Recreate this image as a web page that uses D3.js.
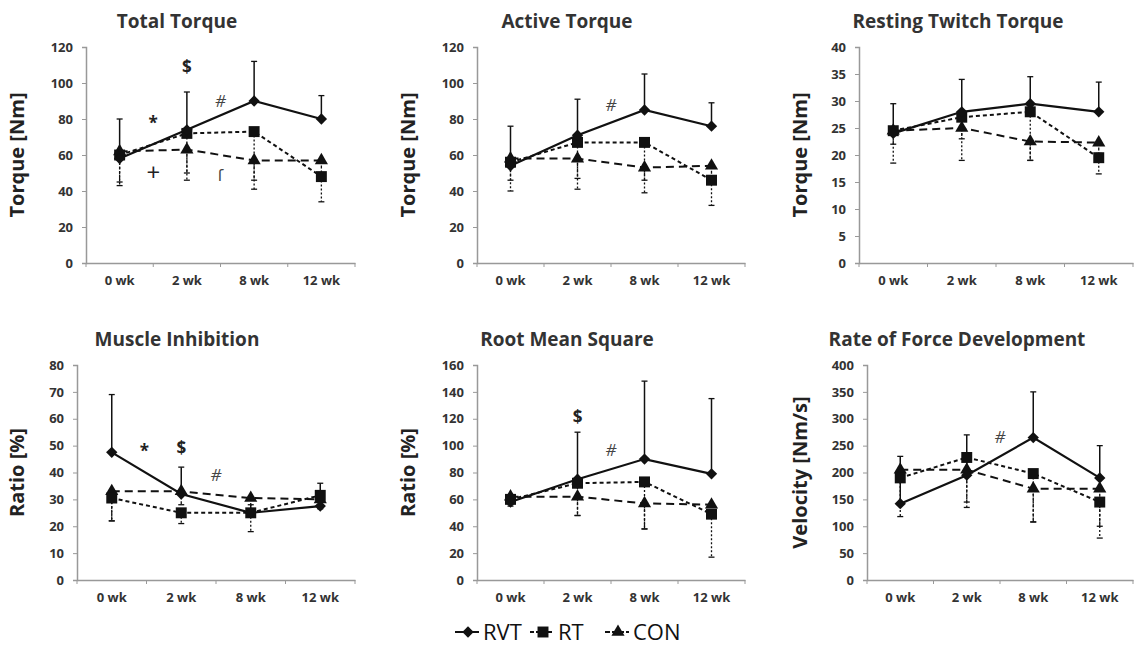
<!DOCTYPE html>
<html>
<head>
<meta charset="utf-8">
<script src="https://cdn.jsdelivr.net/npm/d3@7"></script>
<style>
  body { margin: 0; background: #fff; }
  text { font-family: "Open Sans", "Liberation Sans", sans-serif; }
</style>
</head>
<body>
<script>
const weeks = ["0 wk", "2 wk", "8 wk", "12 wk"];

// Total Torque
const totalRVT = [58, 74, 90, 80], totalRVTSd = [22, 21, 22, 13];
const totalRT = [60, 72, 73, 48], totalRTSd = [15, 26, 32, 14];
const totalCON = [62, 63, 57, 57], totalCONSd = [19, 13, 11, 11];
// Active Torque
const activeRVT = [54, 71, 85, 76], activeRVTSd = [22, 20, 20, 13];
const activeRT = [56, 67, 67, 46], activeRTSd = [16, 26, 28, 14];
const activeCON = [58, 58, 53, 54], activeCONSd = [12, 11, 7, 10];
// Resting Twitch Torque
const restRVT = [24, 28, 29.5, 28], restRVTSd = [5.5, 6, 5, 5.5];
const restRT = [24.5, 27, 28, 19.5], restRTSd = [6, 8, 9, 3];
const restCON = [24.5, 25, 22.5, 22.3], restCONSd = [2.5, 2, 3.5, 2];
// Muscle Inhibition
const inhibRVT = [47.5, 32, 25, 27.5], inhibRVTSd = [21.5, 10, 3, 8.5];
const inhibRT = [30.5, 25, 25, 31.5], inhibRTSd = [8.5, 4, 7, 5];
const inhibCON = [33, 33, 30.5, 30], inhibCONSd = [11, 5, 4, 3];
// Root Mean Square
const rmsRVT = [58, 75, 90, 79], rmsRVTSd = [4, 35, 58, 56];
const rmsRT = [60, 72, 73, 49], rmsRTSd = [5, 24, 35, 32];
const rmsCON = [62, 62, 57, 56], rmsCONSd = [5, 14, 19, 10];
// Rate of Force Development
const rfdRVT = [142, 195, 265, 190], rfdRVTSd = [88, 75, 85, 60];
const rfdRT = [190, 228, 198, 145], rfdRTSd = [72, 93, 90, 67];
const rfdCON = [205, 205, 170, 170], rfdCONSd = [20, 60, 62, 70];

// significance marks: [symbol, position between weeks, value]
const totalMarks = [["$", 1, 109], ["*", 0.5, 78], ["#", 1.5, 90], ["+", 0.5, 50], ["ſ", 1.5, 49]];
const activeMarks = [["#", 1.5, 88]];
const inhibMarks = [["*", 0.47, 48], ["$", 1, 49], ["#", 1.5, 39]];
const rmsMarks = [["$", 1, 121], ["#", 1.5, 97]];
const rfdMarks = [["#", 1.5, 266]];

const panels = [
  { title: "Total Torque", ylab: "Torque [Nm]", max: 120, step: 20, l: 86, r: 355, t: 47, b: 263, tx: 177, ty: 28, lx: 24,
    rvt: [totalRVT, totalRVTSd], rt: [totalRT, totalRTSd], con: [totalCON, totalCONSd], marks: totalMarks },
  { title: "Active Torque", ylab: "Torque [Nm]", max: 120, step: 20, l: 477, r: 745, t: 47, b: 263, tx: 567, ty: 28, lx: 415,
    rvt: [activeRVT, activeRVTSd], rt: [activeRT, activeRTSd], con: [activeCON, activeCONSd], marks: activeMarks },
  { title: "Resting Twitch Torque", ylab: "Torque [Nm]", max: 40, step: 5, l: 859, r: 1133, t: 47, b: 263, tx: 958, ty: 28, lx: 807,
    rvt: [restRVT, restRVTSd], rt: [restRT, restRTSd], con: [restCON, restCONSd], marks: [] },
  { title: "Muscle Inhibition", ylab: "Ratio [%]", max: 80, step: 10, l: 77, r: 355, t: 365, b: 580, tx: 177, ty: 346, lx: 24,
    rvt: [inhibRVT, inhibRVTSd], rt: [inhibRT, inhibRTSd], con: [inhibCON, inhibCONSd], marks: inhibMarks },
  { title: "Root Mean Square", ylab: "Ratio [%]", max: 160, step: 20, l: 477, r: 745, t: 365, b: 580, tx: 567, ty: 346, lx: 415,
    rvt: [rmsRVT, rmsRVTSd], rt: [rmsRT, rmsRTSd], con: [rmsCON, rmsCONSd], marks: rmsMarks },
  { title: "Rate of Force Development", ylab: "Velocity [Nm/s]", max: 400, step: 50, l: 867, r: 1133, t: 365, b: 580, tx: 957, ty: 346, lx: 807,
    rvt: [rfdRVT, rfdRVTSd], rt: [rfdRT, rfdRTSd], con: [rfdCON, rfdCONSd], marks: rfdMarks }
];

const svg = d3.select("body").append("svg")
  .attr("width", 1135)
  .attr("height", 646);

// diamond = square turned 45 degrees (wider than d3's diamond)
const diamond = d3.symbol().type(d3.symbolSquare).size(64);
const square = d3.symbol().type(d3.symbolSquare).size(120);
const triangle = d3.symbol().type(d3.symbolTriangle).size(75);
const rot = { diamond: " rotate(45)", square: "", triangle: "" };

panels.forEach(p => {
  const g = svg.append("g");
  const x = d3.scaleBand().domain(weeks).range([p.l, p.r]);
  const bw = x.bandwidth();
  const cx = i => p.l + bw * (i + 0.5);
  const y = d3.scaleLinear().domain([0, p.max]).range([p.b, p.t]);

  g.append("text")
    .attr("x", p.tx).attr("y", p.ty)
    .attr("text-anchor", "middle")
    .attr("font-size", 19).attr("font-weight", "bold")
    .attr("fill", "#333")
    .text(p.title);

  g.append("text")
    .attr("transform", `translate(${p.lx},${(p.t + p.b) / 2}) rotate(-90)`)
    .attr("text-anchor", "middle")
    .attr("font-size", 20).attr("font-weight", "bold")
    .attr("fill", "#222")
    .text(p.ylab);

  const yAxis = g.append("g")
    .attr("transform", `translate(${p.l},0)`)
    .call(d3.axisLeft(y).tickValues(d3.range(0, p.max + 0.01, p.step)).tickSize(4).tickPadding(9));
  yAxis.selectAll("text").attr("font-size", 13).attr("font-weight", "bold").attr("fill", "#333")
    .style("font-family", "'Open Sans', sans-serif");

  const xAxis = g.append("g")
    .attr("transform", `translate(0,${p.b})`)
    .call(d3.axisBottom(x).tickSize(0).tickPadding(13));
  xAxis.selectAll("text").attr("font-size", 13).attr("font-weight", "bold").attr("fill", "#333")
    .style("font-family", "'Open Sans', sans-serif");
  xAxis.selectAll(".sep").data(d3.range(weeks.length + 1)).enter().append("line")
    .attr("x1", i => p.l + bw * i).attr("x2", i => p.l + bw * i)
    .attr("y1", 0).attr("y2", 4);

  [yAxis, xAxis].forEach(a => {
    a.select(".domain").attr("stroke", "#999").attr("stroke-width", 1.5);
    a.selectAll("line").attr("stroke", "#999");
  });

  // error bars: RVT upward, RT and CON downward
  const bars = [
    { d: p.rvt, dir: 1, dash: null, w: 1.5 },
    { d: p.rt, dir: -1, dash: "2,2", w: 1.3 },
    { d: p.con, dir: -1, dash: "3,2", w: 1.3 }
  ];
  bars.forEach(s => {
    const [m, sd] = s.d;
    m.forEach((v, i) => {
      const yEnd = y(v + s.dir * sd[i]);
      g.append("line")
        .attr("x1", cx(i)).attr("x2", cx(i))
        .attr("y1", y(v)).attr("y2", yEnd)
        .attr("stroke", "#111").attr("stroke-width", s.w)
        .attr("stroke-dasharray", s.dash);
      g.append("line")
        .attr("x1", cx(i) - 3).attr("x2", cx(i) + 3)
        .attr("y1", yEnd).attr("y2", yEnd)
        .attr("stroke", "#111").attr("stroke-width", 1.3);
    });
  });

  const line = d3.line().x((d, i) => cx(i)).y(d => y(d));
  const series = [
    { m: p.con[0], dash: "8,5", w: 2, sym: triangle, r: rot.triangle },
    { m: p.rt[0], dash: "4,3", w: 2, sym: square, r: rot.square },
    { m: p.rvt[0], dash: null, w: 2.2, sym: diamond, r: rot.diamond }
  ];
  series.forEach(s => {
    g.append("path")
      .attr("d", line(s.m))
      .attr("fill", "none").attr("stroke", "#111")
      .attr("stroke-width", s.w).attr("stroke-dasharray", s.dash);
    g.selectAll(null).data(s.m).enter().append("path")
      .attr("d", s.sym)
      .attr("transform", (d, i) => `translate(${cx(i)},${y(d)})${s.r}`)
      .attr("fill", "#111");
  });

  p.marks.forEach(([sym, pos, val]) => {
    const grey = sym === "#" || sym === "ſ";
    g.append("text")
      .attr("x", cx(pos)).attr("y", y(val))
      .attr("text-anchor", "middle").attr("dy", "0.35em")
      .attr("font-size", sym === "+" ? 24 : 17)
      .attr("font-weight", grey || sym === "+" ? "normal" : "bold")
      .attr("font-style", sym === "#" ? "italic" : "normal")
      .attr("fill", grey ? "#444" : "#222")
      .text(sym);
  });
});

// legend
const legendItems = [
  { name: "RVT", sym: diamond, dash: null, r: rot.diamond },
  { name: "RT", sym: square, dash: "4,2", r: rot.square },
  { name: "CON", sym: triangle, dash: "5,2", r: rot.triangle }
];
const legendX = [455, 530, 605];
const lg = svg.append("g").attr("transform", "translate(0,632)");
legendItems.forEach((it, i) => {
  const x0 = legendX[i];
  lg.append("line")
    .attr("x1", x0).attr("x2", x0 + 24).attr("y1", 0).attr("y2", 0)
    .attr("stroke", "#111").attr("stroke-width", 2).attr("stroke-dasharray", it.dash);
  lg.append("path").attr("d", it.sym).attr("transform", `translate(${x0 + 13},0)${it.r}`).attr("fill", "#111");
  lg.append("text")
    .attr("x", x0 + 28).attr("y", 0).attr("dy", "0.36em")
    .attr("font-size", 22).attr("fill", "#111")
    .text(it.name);
});
</script>
</body>
</html>
